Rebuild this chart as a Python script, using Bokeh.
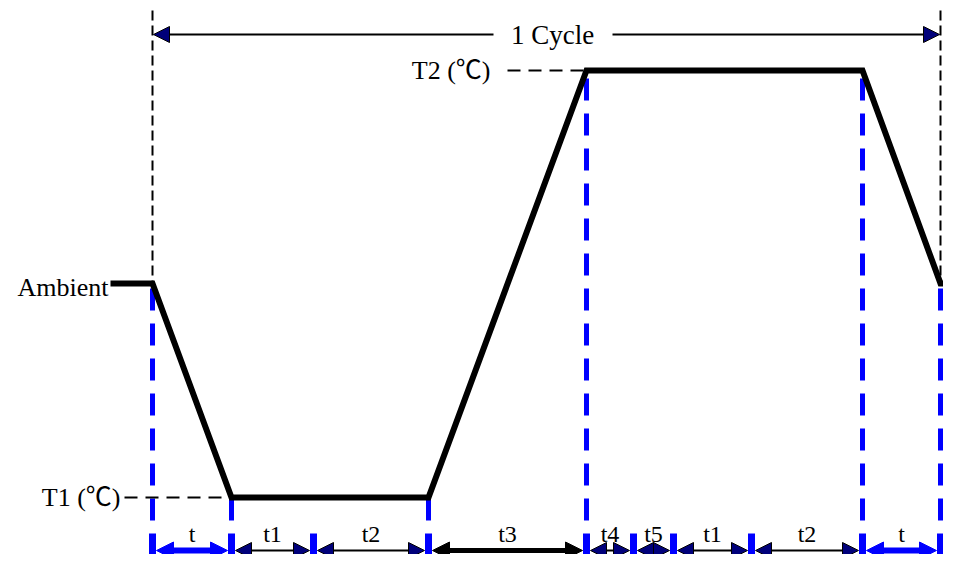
from bokeh.plotting import figure
from bokeh.models import Range1d, Arrow, NormalHead, ColumnDataSource
from bokeh.core.properties import value
from bokeh.embed import file_html
from bokeh.resources import INLINE

# ---- data (schematic thermal-cycle profile, time axis in px units, temperature levels as y positions) ----
profile_time = [110, 152, 231, 428, 586, 862, 940, 959]
level_ambient = 283
level_t1 = 497
level_t2 = 70
profile_temp = [level_ambient, level_ambient, level_t1, level_t1, level_t2, level_t2, level_ambient, level_ambient]

phase_bounds = [152, 231, 313, 428, 586, 633, 673, 751, 862, 940]
phase_labels = ["t", "t1", "t2", "t3", "t4", "t5", "t1", "t2", "t"]
phase_kind = ["ramp", "hold", "hold", "transfer", "hold", "hold", "hold", "hold", "ramp"]

corner_time = [152, 231, 428, 586, 862, 940]
corner_temp = [level_ambient, level_t1, level_t1, level_t2, level_t2, level_ambient]

cycle_start = 152
cycle_end = 940
cycle_label = "1 Cycle"
level_names = ["Ambient", "T1 (℃)", "T2 (℃)"]

FONT = value("'Liberation Serif', 'Noto Sans CJK SC', serif")

p = figure(width=943, height=554, output_backend="svg", toolbar_location=None,
           x_range=Range1d(0, 943), y_range=Range1d(554, 0),
           min_border=0, x_axis_location=None, y_axis_location=None)
p.grid.visible = False
p.outline_line_color = None
p.background_fill_color = "white"
p.border_fill_color = "white"

# ---- black dashed cycle boundaries ----
p.segment(x0=[cycle_start, cycle_end], y0=[10, 10], x1=[cycle_start, cycle_end],
          y1=[level_ambient, level_ambient], line_color="black", line_width=2, line_dash="10 5")

# ---- blue dashed verticals at profile corners ----
bar_top = 533
bar_bottom = 570
dash_bottom = 520
p.segment(x0=corner_time, y0=[dash_bottom] * len(corner_time), x1=corner_time, y1=corner_temp,
          line_color="#0000FF", line_width=5, line_dash="22 13")

# ---- temperature level leaders ----
p.segment(x0=[124, 507], y0=[level_t1, level_t2], x1=[231, 586], y1=[level_t1, level_t2],
          line_color="black", line_width=2, line_dash="13 8")

# ---- profile ----
p.line(profile_time, profile_temp, line_color="black", line_width=6, line_join="miter")

# ---- phase arrows ----
arrow_y = 550
styles = {
    "ramp": dict(line_color="#0000FF", line_width=6, head_fill="#0000FF", head_line="#0000FF", size=17),
    "hold": dict(line_color="black", line_width=2, head_fill="#00007A", head_line="black", size=16),
    "transfer": dict(line_color="black", line_width=5, head_fill="black", head_line="black", size=17),
}
for kind, st in styles.items():
    xs, xe = [], []
    for i, k in enumerate(phase_kind):
        if k == kind:
            xs.append(phase_bounds[i] + 4)
            xe.append(phase_bounds[i + 1] - 4)
    src = ColumnDataSource(dict(xs=xs, xe=xe, ys=[arrow_y] * len(xs), ye=[arrow_y] * len(xs)))
    p.add_layout(Arrow(
        start=NormalHead(size=st["size"], fill_color=st["head_fill"], line_color=st["head_line"], line_width=1),
        end=NormalHead(size=st["size"], fill_color=st["head_fill"], line_color=st["head_line"], line_width=1),
        x_start="xs", y_start="ys", x_end="xe", y_end="ye", source=src,
        line_color=st["line_color"], line_width=st["line_width"]))

# ---- phase tick bars ----
p.segment(x0=phase_bounds, y0=[bar_top] * len(phase_bounds), x1=phase_bounds,
          y1=[bar_bottom] * len(phase_bounds), line_color="#0000FF", line_width=7)

# ---- phase labels ----
mid = [(phase_bounds[i] + phase_bounds[i + 1]) / 2 for i in range(len(phase_labels))]
p.text(x=mid, y=[533] * len(mid), text=phase_labels, text_font=FONT,
       text_font_size=value("24px"), text_align="center", text_baseline="middle",
       text_color="black")

# ---- cycle arrow ----
cyc_y = 34
gap_l, gap_r = 493, 612
p.add_layout(Arrow(end=NormalHead(size=16, fill_color="#00007A", line_color="black", line_width=1),
                   x_start=gap_l, y_start=cyc_y, x_end=cycle_start + 1, y_end=cyc_y,
                   line_color="black", line_width=2))
p.add_layout(Arrow(end=NormalHead(size=16, fill_color="#00007A", line_color="black", line_width=1),
                   x_start=gap_r, y_start=cyc_y, x_end=cycle_end - 1, y_end=cyc_y,
                   line_color="black", line_width=2))
p.text(x=[(gap_l + gap_r) / 2 - 0.5], y=[cyc_y], text=[cycle_label], text_font=FONT,
       text_font_size=value("27px"), text_align="center", text_baseline="middle",
       text_color="black")

# ---- level labels ----
p.text(x=[108, 120, 490], y=[level_ambient + 4, level_t1, level_t2], text=level_names, text_font=FONT,
       text_font_size=value("26px"), text_align="right", text_baseline="middle",
       text_color="black")

open("out.html", "w").write(file_html(p, INLINE))
